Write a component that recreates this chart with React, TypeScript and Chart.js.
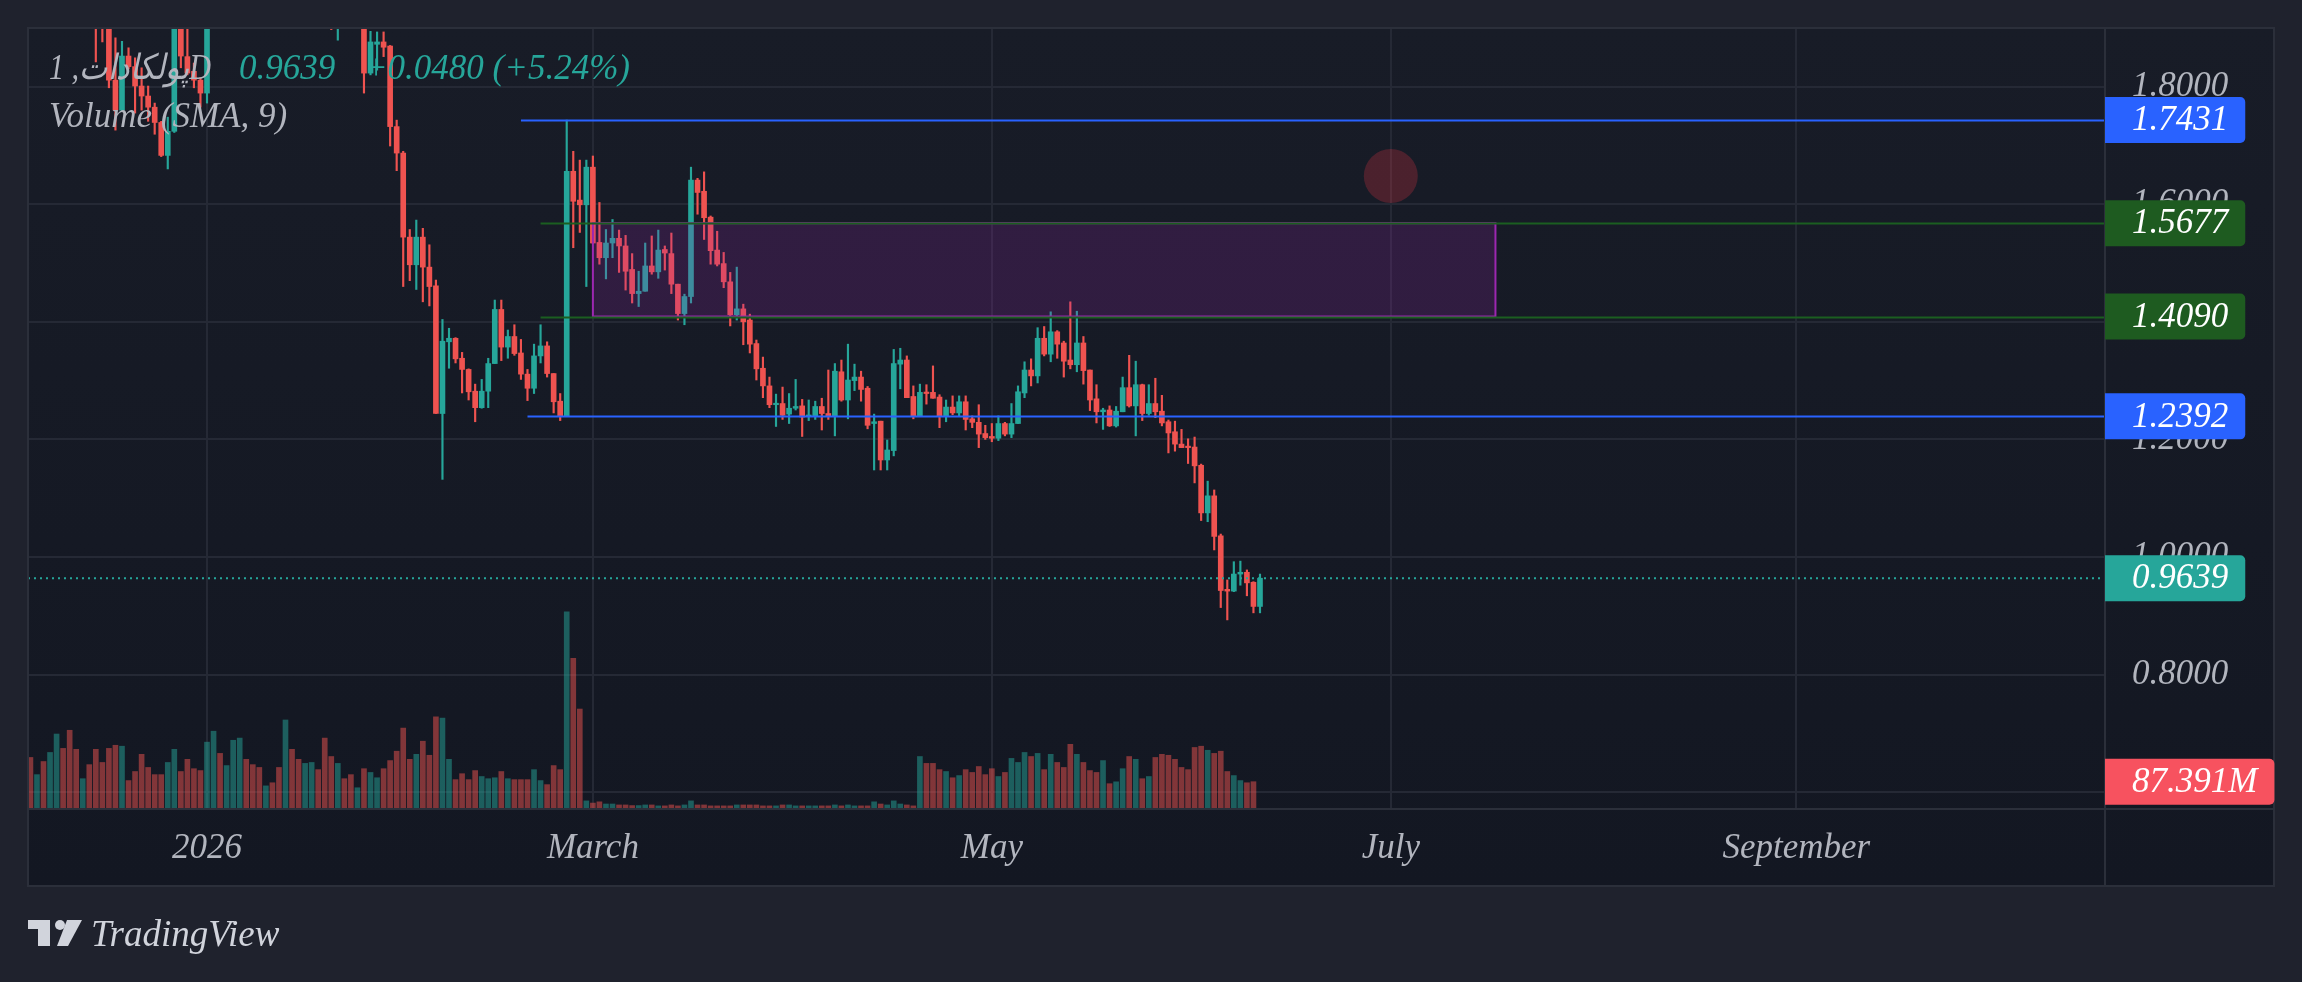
import { useEffect, useRef } from "react";
import { Chart, registerables } from "chart.js";

Chart.register(...registerables);

// ---------- data ----------
const EPOCH = "2026-01-01";
const FIRST_CANDLE_DATE = "2025-12-05";
const SYMBOL = "پولکادات, 1D";
const VOLUME_TITLE = "Volume (SMA, 9)";

const opens = [
  2.12, 2.06, 2.10, 2.02, 2.08, 2.18, 2.12, 2.02, 1.98, 2.01,
  1.96, 1.93, 1.905, 1.811, 1.760, 1.852, 1.834, 1.801, 1.784, 1.765,
  1.739, 1.683, 1.724, 1.92, 1.851, 1.826, 1.811, 1.789, 1.96, 2.04,
  2.00, 2.03, 2.10, 2.18, 2.13, 2.09, 2.05, 2.07, 2.05, 2.00,
  2.12, 2.06, 2.01, 2.04, 2.07, 2.02, 1.95, 1.899, 1.96, 1.93,
  1.91, 1.94, 1.823, 1.872, 1.876, 1.869, 1.732, 1.687, 1.544, 1.497,
  1.544, 1.493, 1.461, 1.244, 1.366, 1.372, 1.338, 1.319, 1.282, 1.254,
  1.282, 1.329, 1.421, 1.357, 1.375, 1.347, 1.311, 1.287, 1.342, 1.359,
  1.312, 1.265, 1.2392, 1.656, 1.607, 1.599, 1.663, 1.535, 1.509, 1.534,
  1.542, 1.529, 1.489, 1.448, 1.452, 1.495, 1.485, 1.523, 1.516, 1.464,
  1.414, 1.443, 1.641, 1.622, 1.578, 1.522, 1.499, 1.468, 1.412, 1.422,
  1.403, 1.363, 1.321, 1.291, 1.259, 1.261, 1.243, 1.253, 1.257, 1.239,
  1.239, 1.256, 1.244, 1.240, 1.315, 1.267, 1.300, 1.306, 1.287, 1.227,
  1.231, 1.165, 1.181, 1.328, 1.335, 1.273, 1.240, 1.280, 1.280, 1.272,
  1.240, 1.255, 1.245, 1.264, 1.235, 1.229, 1.210, 1.205, 1.202, 1.227,
  1.209, 1.227, 1.279, 1.318, 1.308, 1.372, 1.345, 1.383, 1.364, 1.335,
  1.327, 1.364, 1.318, 1.269, 1.247, 1.250, 1.223, 1.247, 1.288, 1.257,
  1.293, 1.244, 1.261, 1.248, 1.230, 1.213, 1.192, 1.187, 1.187, 1.156,
  1.075, 1.104, 1.036, 0.945, 0.942, 0.971, 0.974, 0.957, 0.9159,
];

const highs = [
  2.15, 2.13, 2.12, 2.11, 2.22, 2.20, 2.14, 2.05, 2.03, 2.03,
  1.98, 1.95, 1.92, 1.883, 1.877, 1.866, 1.849, 1.832, 1.801, 1.772,
  1.741, 1.748, 1.95, 1.94, 1.92, 1.840, 1.815, 1.98, 2.07, 2.06,
  2.05, 2.13, 2.21, 2.20, 2.15, 2.11, 2.09, 2.09, 2.07, 2.16,
  2.14, 2.08, 2.06, 2.09, 2.09, 2.04, 1.97, 1.98, 1.99, 1.95,
  1.96, 1.96, 1.894, 1.893, 1.893, 1.870, 1.743, 1.690, 1.557, 1.573,
  1.559, 1.531, 1.471, 1.404, 1.389, 1.373, 1.348, 1.320, 1.294, 1.302,
  1.338, 1.437, 1.437, 1.386, 1.395, 1.370, 1.319, 1.362, 1.395, 1.366,
  1.312, 1.278, 1.7431, 1.690, 1.675, 1.675, 1.682, 1.603, 1.557, 1.574,
  1.556, 1.547, 1.516, 1.486, 1.534, 1.546, 1.556, 1.529, 1.551, 1.464,
  1.447, 1.663, 1.644, 1.655, 1.580, 1.554, 1.518, 1.484, 1.493, 1.430,
  1.413, 1.369, 1.340, 1.306, 1.277, 1.289, 1.278, 1.302, 1.268, 1.267,
  1.265, 1.270, 1.318, 1.329, 1.335, 1.362, 1.328, 1.316, 1.290, 1.243,
  1.231, 1.199, 1.353, 1.355, 1.342, 1.291, 1.294, 1.293, 1.325, 1.276,
  1.267, 1.274, 1.274, 1.274, 1.240, 1.259, 1.224, 1.227, 1.240, 1.229,
  1.261, 1.291, 1.332, 1.337, 1.390, 1.392, 1.417, 1.385, 1.367, 1.434,
  1.418, 1.375, 1.318, 1.293, 1.253, 1.257, 1.256, 1.306, 1.343, 1.333,
  1.294, 1.293, 1.304, 1.275, 1.233, 1.231, 1.217, 1.201, 1.204, 1.158,
  1.129, 1.114, 1.039, 0.961, 0.992, 0.993, 0.978, 0.958, 0.971,
];

const lows = [
  2.03, 2.04, 1.99, 2.00, 2.06, 2.09, 1.98, 1.94, 1.95, 1.93,
  1.842, 1.876, 1.798, 1.726, 1.758, 1.830, 1.755, 1.760, 1.741, 1.719,
  1.681, 1.660, 1.722, 1.832, 1.820, 1.798, 1.765, 1.772, 1.94, 1.97,
  1.98, 2.01, 2.08, 2.10, 2.06, 2.02, 2.03, 2.03, 1.97, 1.98,
  2.04, 1.98, 1.99, 2.02, 1.99, 1.92, 1.897, 1.879, 1.91, 1.905,
  1.905, 1.789, 1.820, 1.828, 1.851, 1.699, 1.657, 1.460, 1.470, 1.455,
  1.434, 1.427, 1.244, 1.132, 1.321, 1.330, 1.279, 1.267, 1.230, 1.253,
  1.254, 1.329, 1.334, 1.338, 1.343, 1.302, 1.266, 1.278, 1.330, 1.306,
  1.245, 1.232, 1.2392, 1.526, 1.552, 1.460, 1.533, 1.498, 1.473, 1.509,
  1.484, 1.454, 1.432, 1.426, 1.452, 1.481, 1.474, 1.488, 1.448, 1.403,
  1.395, 1.432, 1.583, 1.540, 1.498, 1.495, 1.458, 1.393, 1.403, 1.361,
  1.347, 1.301, 1.271, 1.254, 1.222, 1.234, 1.227, 1.250, 1.205, 1.232,
  1.234, 1.216, 1.234, 1.206, 1.265, 1.235, 1.283, 1.265, 1.218, 1.148,
  1.148, 1.148, 1.172, 1.286, 1.271, 1.235, 1.240, 1.260, 1.270, 1.220,
  1.230, 1.242, 1.239, 1.216, 1.220, 1.186, 1.200, 1.196, 1.198, 1.206,
  1.203, 1.227, 1.271, 1.291, 1.296, 1.342, 1.332, 1.338, 1.306, 1.320,
  1.315, 1.294, 1.249, 1.228, 1.217, 1.222, 1.221, 1.247, 1.255, 1.206,
  1.232, 1.241, 1.237, 1.223, 1.177, 1.180, 1.186, 1.159, 1.126, 1.062,
  1.060, 1.012, 0.914, 0.893, 0.941, 0.952, 0.934, 0.905, 0.905,
];

const closes = [
  2.06, 2.10, 2.02, 2.08, 2.18, 2.12, 2.02, 1.98, 2.01, 1.96,
  1.93, 1.905, 1.811, 1.760, 1.852, 1.834, 1.801, 1.784, 1.765, 1.739,
  1.683, 1.724, 1.92, 1.852, 1.823, 1.811, 1.789, 1.96, 2.04, 2.00,
  2.03, 2.10, 2.18, 2.13, 2.09, 2.05, 2.07, 2.05, 2.00, 2.12,
  2.06, 2.01, 2.04, 2.07, 2.02, 1.95, 1.899, 1.96, 1.93, 1.91,
  1.94, 1.823, 1.876, 1.876, 1.867, 1.732, 1.687, 1.544, 1.497, 1.544,
  1.493, 1.460, 1.244, 1.367, 1.372, 1.337, 1.319, 1.281, 1.254, 1.282,
  1.329, 1.421, 1.357, 1.375, 1.346, 1.311, 1.287, 1.342, 1.359, 1.312,
  1.264, 1.239, 1.656, 1.605, 1.599, 1.663, 1.534, 1.509, 1.534, 1.542,
  1.529, 1.486, 1.448, 1.452, 1.495, 1.485, 1.522, 1.517, 1.464, 1.414,
  1.443, 1.641, 1.620, 1.577, 1.521, 1.498, 1.468, 1.412, 1.422, 1.400,
  1.362, 1.320, 1.291, 1.259, 1.261, 1.241, 1.253, 1.256, 1.238, 1.241,
  1.256, 1.244, 1.240, 1.316, 1.267, 1.301, 1.306, 1.285, 1.224, 1.230,
  1.165, 1.182, 1.329, 1.335, 1.271, 1.239, 1.280, 1.278, 1.270, 1.240,
  1.255, 1.245, 1.264, 1.234, 1.229, 1.209, 1.203, 1.202, 1.227, 1.209,
  1.227, 1.281, 1.318, 1.308, 1.372, 1.345, 1.383, 1.362, 1.333, 1.327,
  1.364, 1.317, 1.267, 1.247, 1.250, 1.223, 1.248, 1.288, 1.257, 1.293,
  1.244, 1.261, 1.247, 1.228, 1.211, 1.192, 1.186, 1.186, 1.155, 1.075,
  1.104, 1.035, 0.943, 0.942, 0.971, 0.974, 0.956, 0.9159, 0.9639,
];

// volume in millions
const volumes = [
  165, 110, 152, 181, 240, 194, 252, 191, 97, 142,
  191, 149, 194, 204, 201, 91, 120, 175, 133, 110,
  110, 149, 191, 120, 159, 129, 123, 214, 249, 178,
  139, 220, 227, 159, 142, 133, 74, 84, 133, 285,
  191, 159, 146, 149, 126, 227, 168, 146, 97, 110,
  68, 129, 117, 100, 129, 155, 185, 259, 159, 175,
  217, 172, 295, 291, 159, 94, 113, 94, 123, 104,
  97, 100, 120, 97, 94, 94, 94, 126, 91, 78,
  139, 126, 631, 482, 320, 26, 19, 23, 16, 16,
  13, 13, 11, 11, 13, 13, 10, 10, 13, 10,
  13, 26, 13, 13, 10, 10, 10, 10, 13, 13,
  13, 13, 10, 10, 10, 13, 13, 10, 10, 10,
  10, 10, 10, 13, 10, 13, 10, 10, 10, 23,
  16, 13, 26, 16, 13, 10, 168, 146, 146, 126,
  120, 100, 107, 126, 117, 136, 110, 129, 104, 117,
  162, 149, 181, 168, 178, 126, 175, 149, 133, 207,
  175, 149, 123, 117, 155, 81, 87, 129, 168, 159,
  97, 104, 165, 175, 172, 159, 133, 126, 197, 201,
  188, 178, 185, 120, 107, 91, 84, 87.391, 0,
];

const timeTickDates = ["2026-01-01", "2026-03-01", "2026-05-01", "2026-07-01", "2026-09-01"];
const timeTickLabels = ["2026", "March", "May", "July", "September"];
const priceTicks = [0.6, 0.8, 1.0, 1.2, 1.4, 1.6, 1.8];

// visible window (days since EPOCH, price, volume)
const viewStartDay = -27.37;
const viewEndDay = 290.2;
const priceMin = 0.5714;
const priceMax = 1.8997;
const volumeMax = 2500;

// drawings
const levelValues = [1.7431, 1.5677, 1.409, 1.2392];
const levelStartDates = ["2026-02-18", "2026-02-21", "2026-02-21", "2026-02-19"];
const zoneDates = ["2026-03-01", "2026-07-17"];
const zonePrices = [1.5677, 1.409];
const markerDate = "2026-07-01";
const markerPrice = 1.648;

// ---------- helpers ----------
const FONT = '"Liberation Serif", "DejaVu Serif", serif';
const UP = "#26a69a";
const DOWN = "#ef5350";
const TEXT = "#b2b5be";
const GRID = "#252935";
const BORDER = "#2b2f3a";

const dayOf = (iso: string) =>
  Math.round((Date.parse(iso + "T00:00:00Z") - Date.parse(EPOCH + "T00:00:00Z")) / 86400000);
const firstDay = dayOf(FIRST_CANDLE_DATE);
const days = opens.map((_, i) => firstDay + i);
const timeTickDays = timeTickDates.map(dayOf);
const levelColors = ["#2962ff", "#1b5e20", "#1b5e20", "#2962ff"];
const levelTagColors = ["#2962ff", "#1e5b20", "#1e5b20", "#2962ff"];

function drawTag(ctx: CanvasRenderingContext2D, left: number, y: number, text: string, bg: string) {
  ctx.save();
  ctx.font = `italic 35px ${FONT}`;
  const tx = left + 27;
  const w = ctx.measureText(text).width;
  const right = tx + w + 17;
  ctx.fillStyle = bg;
  ctx.beginPath();
  (ctx as any).roundRect(left, y - 23, right - left, 46, [0, 5, 5, 0]);
  ctx.fill();
  ctx.fillStyle = "#ffffff";
  ctx.textAlign = "left";
  ctx.textBaseline = "middle";
  ctx.fillText(text, tx, y + 1);
  ctx.restore();
}

const framePlugin = {
  id: "tvFrame",
  beforeDraw(chart: any) {
    const { ctx, chartArea } = chart;
    const xs = chart.scales.x;
    const ys = chart.scales.y;
    ctx.save();
    ctx.fillStyle = "#1f222d";
    ctx.fillRect(0, 0, chart.width, chart.height);
    const L = chartArea.left, T = chartArea.top, R = ys.right, B = xs.bottom;
    const g = ctx.createLinearGradient(0, T, 0, B);
    g.addColorStop(0, "#181c27");
    g.addColorStop(1, "#131722");
    ctx.fillStyle = g;
    ctx.fillRect(L, T, R - L, B - T);
    ctx.restore();
  },
  afterDatasetsDraw(chart: any) {
    const { ctx, chartArea } = chart;
    const xs = chart.scales.x;
    const ys = chart.scales.y;
    ctx.save();
    ctx.beginPath();
    ctx.rect(chartArea.left, chartArea.top, chartArea.right - chartArea.left, chartArea.bottom - chartArea.top);
    ctx.clip();

    // zone
    const zx0 = xs.getPixelForValue(dayOf(zoneDates[0]));
    const zx1 = xs.getPixelForValue(dayOf(zoneDates[1]));
    const zy0 = ys.getPixelForValue(zonePrices[0]);
    const zy1 = ys.getPixelForValue(zonePrices[1]);
    ctx.fillStyle = "rgba(156, 39, 176, 0.2)";
    ctx.fillRect(zx0, zy0, zx1 - zx0, zy1 - zy0);
    ctx.strokeStyle = "#9c27b0";
    ctx.lineWidth = 2;
    ctx.strokeRect(zx0, zy0, zx1 - zx0, zy1 - zy0);

    // horizontal levels
    levelValues.forEach((v, i) => {
      const y = Math.round(ys.getPixelForValue(v)) + 0.5;
      const x0 = xs.getPixelForValue(dayOf(levelStartDates[i]));
      ctx.strokeStyle = levelColors[i];
      ctx.lineWidth = 2;
      ctx.beginPath();
      ctx.moveTo(x0, y);
      ctx.lineTo(chartArea.right, y);
      ctx.stroke();
    });

    // last price dotted line
    const last = closes[closes.length - 1];
    const ly = ys.getPixelForValue(last);
    ctx.strokeStyle = UP;
    ctx.lineWidth = 2;
    ctx.setLineDash([2, 4]);
    ctx.beginPath();
    ctx.moveTo(chartArea.left, ly);
    ctx.lineTo(chartArea.right, ly);
    ctx.stroke();
    ctx.setLineDash([]);

    // marker
    ctx.fillStyle = "rgba(242, 54, 69, 0.24)";
    ctx.beginPath();
    ctx.arc(xs.getPixelForValue(dayOf(markerDate)), ys.getPixelForValue(markerPrice), 27, 0, Math.PI * 2);
    ctx.fill();
    ctx.restore();
  },
  afterDraw(chart: any) {
    const { ctx, chartArea } = chart;
    const xs = chart.scales.x;
    const ys = chart.scales.y;
    const vs = chart.scales.yv;
    const L = chartArea.left, T = chartArea.top, R = ys.right, B = xs.bottom;
    ctx.save();
    // frame
    ctx.strokeStyle = BORDER;
    ctx.lineWidth = 2;
    ctx.strokeRect(L, T, R - L, B - T);
    ctx.beginPath();
    ctx.moveTo(chartArea.right, T);
    ctx.lineTo(chartArea.right, B);
    ctx.moveTo(L, chartArea.bottom);
    ctx.lineTo(R, chartArea.bottom);
    ctx.stroke();

    // axis tags
    const n = closes.length;
    levelValues.forEach((v, i) => {
      drawTag(ctx, chartArea.right, ys.getPixelForValue(v), v.toFixed(4), levelTagColors[i]);
    });
    const lastClose = closes[n - 1];
    drawTag(ctx, chartArea.right, ys.getPixelForValue(lastClose), lastClose.toFixed(4),
      lastClose >= opens[n - 1] ? UP : DOWN);
    let vi = n - 1;
    while (vi > 0 && !(volumes[vi] > 0)) vi--;
    drawTag(ctx, chartArea.right, vs.getPixelForValue(volumes[vi]), volumes[vi].toFixed(3) + "M",
      closes[vi] >= opens[vi] ? UP : "#f7525f");

    // legend
    const prev = closes[n - 2];
    const chg = lastClose - prev;
    const pct = (chg / prev) * 100;
    ctx.font = `italic 35px ${FONT}`;
    ctx.textBaseline = "middle";
    ctx.textAlign = "left";
    const lx = chartArea.left + 21;
    ctx.fillStyle = TEXT;
    ctx.fillText(SYMBOL, lx, 70, 162);
    ctx.fillStyle = UP;
    ctx.fillText(lastClose.toFixed(4), lx + 190, 70);
    const sign = chg >= 0 ? "+" : "";
    ctx.fillText(`${sign}${chg.toFixed(4)} (${sign}${pct.toFixed(2)}%)`, lx + 315, 70);
    ctx.fillStyle = TEXT;
    ctx.fillText(VOLUME_TITLE, lx, 118);

    // TradingView logo
    ctx.fillStyle = "#d1d4dc";
    ctx.fillRect(28, 920, 22, 9);
    ctx.fillRect(38, 920, 12, 26);
    ctx.beginPath();
    ctx.arc(60, 925, 5, 0, Math.PI * 2);
    ctx.fill();
    ctx.beginPath();
    ctx.moveTo(67, 920);
    ctx.lineTo(82, 920);
    ctx.lineTo(68, 946);
    ctx.lineTo(57, 946);
    ctx.closePath();
    ctx.fill();
    ctx.font = `italic 37px ${FONT}`;
    ctx.textBaseline = "alphabetic";
    ctx.fillText("TradingView", 91, 946);
    ctx.restore();
  },
};

export default function App() {
  const ref = useRef<HTMLCanvasElement | null>(null);

  useEffect(() => {
    const canvas = ref.current;
    if (!canvas) return;
    const isUp = (i: number) => closes[i] >= opens[i];
    const bodyColors = days.map((_, i) => (isUp(i) ? UP : DOWN));
    const volColors = days.map((_, i) => (isUp(i) ? "rgba(38,166,154,0.5)" : "rgba(239,83,80,0.5)"));
    const tickFont = { family: FONT, size: 35, style: "italic" as const };

    const chart = new Chart(canvas, {
      type: "bar",
      data: {
        datasets: [
          {
            label: "body",
            data: days.map((d, i) => ({ x: d, y: [opens[i], closes[i]] })) as any,
            backgroundColor: bodyColors,
            barThickness: 5,
            minBarLength: 1.5,
            grouped: false,
            order: 0,
            yAxisID: "y",
            clip: 0 as any,
          },
          {
            label: "wick",
            data: days.map((d, i) => ({ x: d, y: [lows[i], highs[i]] })) as any,
            backgroundColor: bodyColors,
            barThickness: 1.5,
            grouped: false,
            order: 1,
            yAxisID: "y",
            clip: 0 as any,
          },
          {
            label: "volume",
            data: days.map((d, i) => ({ x: d, y: volumes[i] })) as any,
            backgroundColor: volColors,
            barThickness: 5,
            grouped: false,
            order: 2,
            yAxisID: "yv",
            clip: 0 as any,
          },
        ],
      },
      options: {
        animation: false,
        responsive: false,
        devicePixelRatio: 1,
        events: [],
        layout: { padding: { left: 28, top: 28, right: 28, bottom: 96 } },
        plugins: { legend: { display: false }, tooltip: { enabled: false } },
        scales: {
          x: {
            type: "linear",
            position: "bottom",
            min: viewStartDay,
            max: viewEndDay,
            offset: false,
            grid: { offset: false, color: GRID, lineWidth: 2, drawTicks: false },
            border: { display: false },
            afterBuildTicks: (s: any) => {
              s.ticks = timeTickDays.map((v) => ({ value: v }));
            },
            afterFit: (s: any) => {
              s.height = 77;
              s.paddingLeft = 0;
              s.paddingRight = 0;
            },
            ticks: {
              autoSkip: false,
              maxRotation: 0,
              padding: 19,
              color: TEXT,
              font: tickFont,
              callback: (v: any) => {
                const k = timeTickDays.indexOf(Number(v));
                return k >= 0 ? timeTickLabels[k] : null;
              },
            },
          },
          y: {
            type: "linear",
            position: "right",
            min: priceMin,
            max: priceMax,
            grid: { color: GRID, lineWidth: 2, drawTicks: false },
            border: { display: false },
            afterBuildTicks: (s: any) => {
              s.ticks = priceTicks.map((v) => ({ value: v }));
            },
            afterFit: (s: any) => {
              s.width = 169;
              s.paddingTop = 0;
              s.paddingBottom = 0;
            },
            ticks: {
              padding: 27,
              color: TEXT,
              font: tickFont,
              callback: (v: any) => Number(v).toFixed(4),
            },
          },
          yv: {
            type: "linear",
            display: false,
            min: 0,
            max: volumeMax,
          },
        },
      } as any,
      plugins: [framePlugin as any],
    });
    return () => chart.destroy();
  }, []);

  return (
    <div style={{ position: "fixed", left: 0, top: 0, width: 2302, height: 982, background: "#1f222d" }}>
      <canvas ref={ref} width={2302} height={982} style={{ display: "block", width: 2302, height: 982 }} />
    </div>
  );
}
